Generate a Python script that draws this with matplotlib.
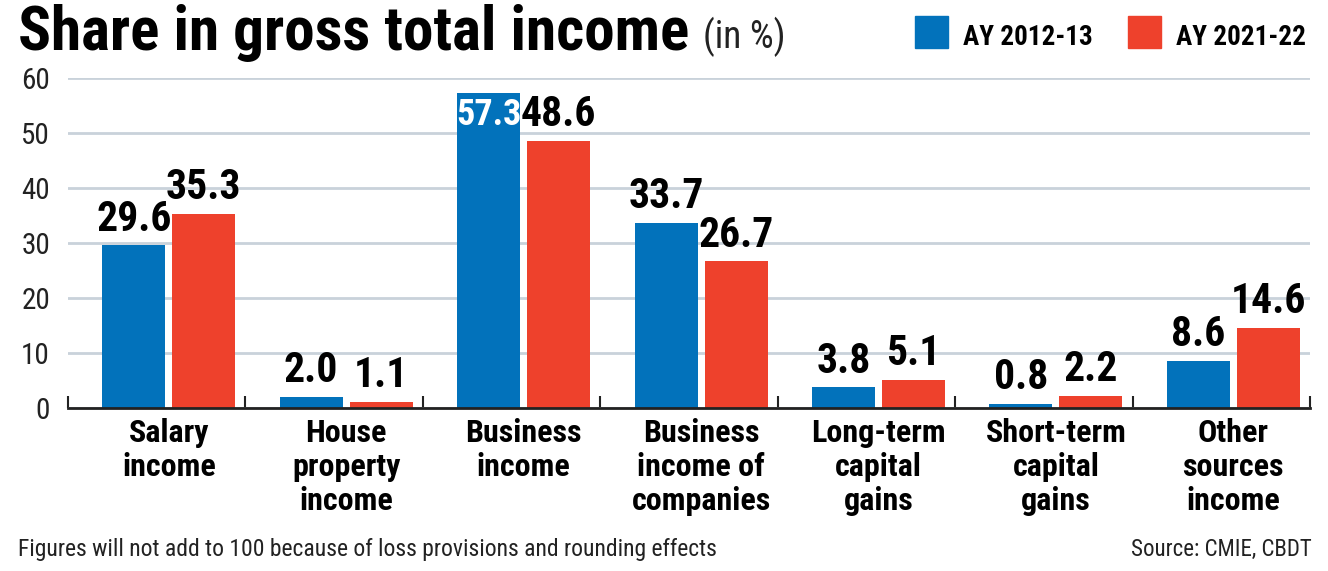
import numpy as np
import matplotlib
matplotlib.use("Agg")
import matplotlib.pyplot as plt
from matplotlib import font_manager

categories = ["Salary\nincome", "House\nproperty\nincome", "Business\nincome",
              "Business\nincome of\ncompanies", "Long-term\ncapital\ngains",
              "Short-term\ncapital\ngains", "Other\nsources\nincome"]
ay_2012 = [29.6, 2.0, 57.3, 33.7, 3.8, 0.8, 8.6]
ay_2021 = [35.3, 1.1, 48.6, 26.7, 5.1, 2.2, 14.6]
series_names = ["AY 2012-13", "AY 2021-22"]
yticks = [0, 10, 20, 30, 40, 50, 60]

BLUE = "#0272bb"
RED = "#ee412c"
GRID = "#c9d2da"

# pick a condensed face if we have one
installed = {f.name for f in font_manager.fontManager.ttflist}
narrow = None
for name in ["Roboto Condensed", "Liberation Sans Narrow", "DejaVu Sans Condensed"]:
    if name in installed:
        narrow = name
        break
FONT = [narrow, "DejaVu Sans"] if narrow else ["DejaVu Sans"]
plt.rcParams["font.family"] = FONT

W, H = 1328, 571
fig = plt.figure(figsize=(W / 100, H / 100), dpi=100)
ax = fig.add_axes([68 / W, 1 - 408 / H, (1310 - 68) / W, (408 - 78) / H])


def px(x, y):
    return x / W, 1 - y / H


x = np.arange(len(categories))
bw = 0.355
gap = 0.04
ax.bar(x - bw / 2 - gap / 2, ay_2012, bw, color=BLUE, zorder=3)
ax.bar(x + bw / 2 + gap / 2, ay_2021, bw, color=RED, zorder=3)

for i in range(len(categories)):
    xb = x[i] - bw / 2 - gap / 2
    xr = x[i] + bw / 2 + gap / 2
    if ay_2012[i] > 55:
        # no room above, goes inside the bar
        ax.text(xb, ay_2012[i] - 0.7, f"{ay_2012[i]:.1f}", ha="center", va="top",
                color="white", fontsize=26, fontweight="bold", zorder=5)
    else:
        ax.text(xb, ay_2012[i] + 1.0, f"{ay_2012[i]:.1f}", ha="center", va="bottom",
                color="black", fontsize=30, fontweight="bold", zorder=5)
    ax.text(xr, ay_2021[i] + 1.0, f"{ay_2021[i]:.1f}", ha="center", va="bottom",
            color="black", fontsize=30, fontweight="bold", zorder=5)

off = 0.568
ax.set_xlim(-off, len(categories) - off)
ax.set_ylim(0, 60)
ax.set_yticks(yticks)
ax.set_xticks(x)
ax.set_xticklabels(categories, fontsize=23, fontweight="bold", linespacing=1.17)
ax.set_xticks(np.arange(len(categories) + 1) - off, minor=True)
ax.tick_params(axis="x", which="major", length=0, pad=7)
ax.tick_params(axis="x", which="minor", direction="in", length=9, width=1.5, color="#222222")
ax.tick_params(axis="y", length=0, pad=13, labelsize=21)
for lab in ax.get_yticklabels():
    lab.set_color("#222222")

ax.grid(axis="y", color=GRID, lw=2, zorder=0)
ax.set_axisbelow(True)
for s in ["top", "right", "left"]:
    ax.spines[s].set_visible(False)
ax.spines["bottom"].set_linewidth(2)
ax.spines["bottom"].set_color("#222222")
ax.spines["bottom"].set_zorder(4)

# title
t = fig.text(*px(18, 50), "Share in gross total income", fontsize=44,
             fontweight="bold", ha="left", va="baseline")
fig.canvas.draw()
bb = t.get_window_extent()
fig.text(bb.x1 / W + 14 / W, 1 - 48 / H, "(in %)", fontsize=27, ha="left",
         va="baseline", color="#222222")

# legend
for (x0, name, col) in [(915, series_names[0], BLUE), (1128, series_names[1], RED)]:
    fig.patches.append(plt.Rectangle(px(x0, 48), 33 / W, 32 / H, color=col,
                                     transform=fig.transFigure, figure=fig))
    fig.text(*px(x0 + 48, 45), name, fontsize=19.5, fontweight="bold",
             ha="left", va="baseline")

fig.text(*px(18, 556), "Figures will not add to 100 because of loss provisions and rounding effects",
         fontsize=17, ha="left", va="baseline", color="#222222")
fig.text(*px(1312, 556), "Source: CMIE, CBDT", fontsize=16.5, ha="right",
         va="baseline", color="#222222")

fig.savefig("out.png", dpi=100)
